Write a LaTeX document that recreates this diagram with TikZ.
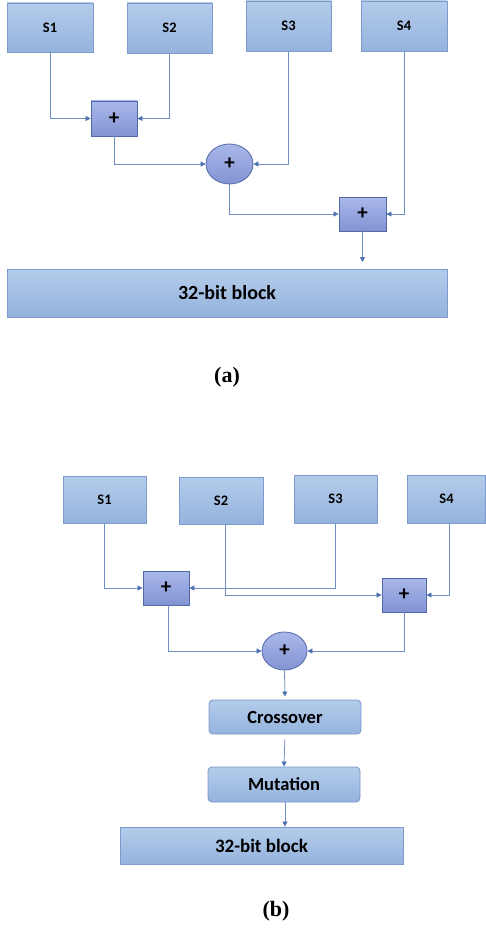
\documentclass[tikz,border=0pt]{standalone}
\usepackage{fontspec}
\setmainfont{Carlito}
\newfontfamily\labfont{Liberation Serif}
\usetikzlibrary{arrows.meta,calc,shapes.geometric}
\definecolor{sbord}{HTML}{7C9ACB}
\definecolor{stop}{HTML}{B4CCEB}
\definecolor{sbot}{HTML}{94B3DD}
\definecolor{ptop}{HTML}{A9B8EA}
\definecolor{pbot}{HTML}{8293D2}
\definecolor{pbord}{HTML}{5468A8}
\definecolor{lncol}{HTML}{6F8FC2}
\definecolor{tipcol}{HTML}{4A70B0}
\tikzset{
  sbox/.style={draw=sbord, line width=0.9pt, top color=stop, bottom color=sbot, inner sep=0pt, font=\bfseries\fontsize{14.5}{16}\selectfont},
  pbox/.style={draw=pbord, line width=0.9pt, top color=ptop, bottom color=pbot, inner sep=0pt, font=\bfseries\fontsize{21}{23}\selectfont},
  pell/.style={ellipse, draw=pbord, line width=0.8pt, top color=ptop, bottom color=pbot, inner sep=0pt, font=\bfseries\fontsize{21}{23}\selectfont},
  gbox/.style={draw=sbord, line width=0.9pt, top color=stop, bottom color=sbot, inner sep=0pt, rounded corners=4pt, font=\bfseries\fontsize{18.5}{20}\selectfont},
  conn/.style={draw=lncol, line width=0.8pt, -{Triangle[length=5pt,width=5pt,fill=tipcol,color=tipcol]}},
  lab/.style={font=\labfont\bfseries\fontsize{22}{24}\selectfont},
}
\begin{document}
\begin{tikzpicture}[x=1pt,y=-1pt]
\useasboundingbox (0,0) rectangle (486,928);
% ---- (a) ----
\node[sbox, minimum width=86pt, minimum height=49pt] (a1) at (50,27.5) {S1};
\node[sbox, minimum width=85pt, minimum height=50pt] (a2) at (169.5,28) {S2};
\node[sbox, minimum width=85pt, minimum height=50pt] (a3) at (288.5,26) {S3};
\node[sbox, minimum width=86pt, minimum height=50pt] (a4) at (404,26) {S4};
\node[pbox, minimum width=46pt, minimum height=35pt] (ap1) at (114,118.5) {+};
\node[pell, minimum width=47pt, minimum height=40pt] (ae) at (229.5,164) {+};
\node[pbox, minimum width=47pt, minimum height=34pt] (ap2) at (362.5,214) {+};
\node[sbox, minimum width=440pt, minimum height=48pt, font=\bfseries\fontsize{20}{22}\selectfont] (ablk) at (227,293) {32-bit block};
\coordinate (aend) at (362.5,262);
\draw[conn] (a1.south) |- (ap1.west);
\draw[conn] (a2.south) |- (ap1.east);
\draw[conn] (ap1.south) |- (ae.west);
\draw[conn] (a3.south) |- (ae.east);
\draw[conn] (ae.south) |- (ap2.west);
\draw[conn] (a4.south) |- (ap2.east);
\draw[conn] (ap2.south) -- (aend);
\node[lab] (la) at (227,377) {(a)};
% ---- (b) ----
\node[sbox, minimum width=83pt, minimum height=47pt] (b1) at (104.5,499.5) {S1};
\node[sbox, minimum width=84pt, minimum height=47pt] (b2) at (221,500.5) {S2};
\node[sbox, minimum width=83pt, minimum height=48pt] (b3) at (335.5,499) {S3};
\node[sbox, minimum width=78pt, minimum height=48pt] (b4) at (446.5,499) {S4};
\node[pbox, minimum width=46pt, minimum height=34pt] (bp1) at (166,588) {+};
\node[pbox, minimum width=44pt, minimum height=34pt] (bp2) at (404,595) {+};
\node[pell, minimum width=45pt, minimum height=38pt] (be) at (284.5,651) {+};
\node[gbox, minimum width=152pt, minimum height=34pt] (bcr) at (285,717) {Crossover};
\node[gbox, minimum width=152pt, minimum height=35pt] (bmu) at (284,784.5) {Mutation};
\node[sbox, minimum width=283pt, minimum height=37pt, font=\bfseries\fontsize{19}{21}\selectfont] (bblk) at (261.5,845.5) {32-bit block};
\draw[conn] (b1.south) |- (bp1.west);
\draw[conn] (b3.south) |- (bp1.east);
\draw[conn] ([xshift=4pt]b2.south) |- (bp2.west);
\draw[conn] ([xshift=2.5pt]b4.south) |- (bp2.east);
\draw[conn] ([xshift=2pt]bp1.south) |- (be.west);
\draw[conn] (bp2.south) |- (be.east);
\draw[conn, shorten >=3pt] (be.south) -- (bcr.north);
\draw[conn, shorten <=5pt] (bcr.south) -- (bmu.north);
\draw[conn] ([xshift=1pt]bmu.south) -- ([xshift=1pt]bmu.south |- bblk.north);
\node[lab] (lb) at (276,911) {(b)};
\end{tikzpicture}
\end{document}
